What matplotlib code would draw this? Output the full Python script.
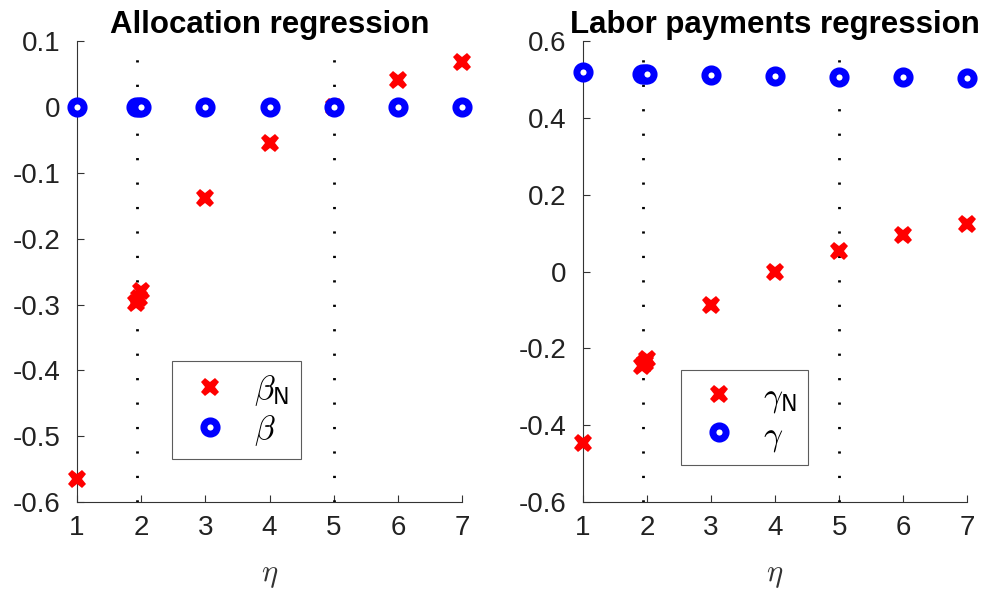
import numpy as np
import matplotlib.pyplot as plt

plt.rcParams['font.family'] = ['Liberation Sans', 'DejaVu Sans']
plt.rcParams['mathtext.fontset'] = 'cm'

# eta values (a few points cluster just below 2)
eta = [1, 1.92, 1.96, 2.0, 3, 4, 5, 6, 7]

# allocation regression
beta_N = [-0.565, -0.298, -0.29, -0.28, -0.139, -0.055, 0.0, 0.041, 0.068]
beta = [0, 0, 0, 0, 0, 0, 0, 0, 0]

# labor payments regression
gamma_N = [-0.445, -0.245, -0.237, -0.228, -0.088, 0.0, 0.054, 0.095, 0.125]
gamma = [0.519, 0.514, 0.514, 0.513, 0.511, 0.508, 0.507, 0.507, 0.505]

vlines = [1.94, 5]

fig = plt.figure(figsize=(9.95, 5.95), dpi=100)
ax1 = fig.add_axes([0.0774, 0.156, 0.387, 0.775])
ax2 = fig.add_axes([0.586, 0.156, 0.386, 0.775])


def draw(ax, xs, red, blue, title, lab_red, lab_blue, ylim, yticks, legpos):
    for v in vlines:
        ax.plot([v, v], ylim, color='k', linestyle=(0, (0.8, 8)), linewidth=2)
    ax.plot(xs, red, linestyle='none', marker='X', color='red', markersize=13,
            markeredgewidth=0, label=lab_red, zorder=3, clip_on=False)
    ax.plot(xs, blue, linestyle='none', marker='o', markerfacecolor='white',
            markeredgecolor='blue', markersize=9.5, markeredgewidth=5,
            label=lab_blue, zorder=3, clip_on=False)
    ax.set_xlim(1, 7)
    ax.set_ylim(*ylim)
    ax.set_xticks([1, 2, 3, 4, 5, 6, 7])
    ax.set_yticks(yticks)
    ax.set_yticklabels(['0' if round(t, 2) == 0 else '%g' % round(t, 2)
                        for t in yticks])
    for s in ['top', 'right']:
        ax.spines[s].set_visible(False)
    for s in ['left', 'bottom']:
        ax.spines[s].set_color('#333333')
        ax.spines[s].set_linewidth(0.8)
    ax.tick_params(direction='in', labelsize=20, colors='#333333', length=5,
                   labelcolor='#222222')
    ax.tick_params(axis='x', pad=9)
    ax.tick_params(axis='y', pad=12)
    ax.set_xlabel(r'$\eta$', fontsize=22, color='#333333', labelpad=14)
    ax.set_title(title, fontsize=22.5, fontweight='bold', pad=6)
    leg = ax.legend(loc='lower left', bbox_to_anchor=legpos, fontsize=24,
                    frameon=True, fancybox=False, edgecolor='#333333',
                    borderpad=0.35, handletextpad=0.5, labelspacing=0.15,
                    handlelength=1.6, borderaxespad=0)
    leg.get_frame().set_linewidth(0.8)


draw(ax1, eta, beta_N, beta, 'Allocation regression', r'$\beta_\mathsf{N}$',
     r'$\beta$', (-0.6, 0.1), [-0.6, -0.5, -0.4, -0.3, -0.2, -0.1, 0, 0.1],
     (0.247, 0.093))
draw(ax2, eta, gamma_N, gamma, 'Labor payments regression',
     r'$\gamma_\mathsf{N}$', r'$\gamma$', (-0.6, 0.6),
     [-0.6, -0.4, -0.2, 0, 0.2, 0.4, 0.6], (0.255, 0.08))

fig.savefig('out.png', dpi=100)
